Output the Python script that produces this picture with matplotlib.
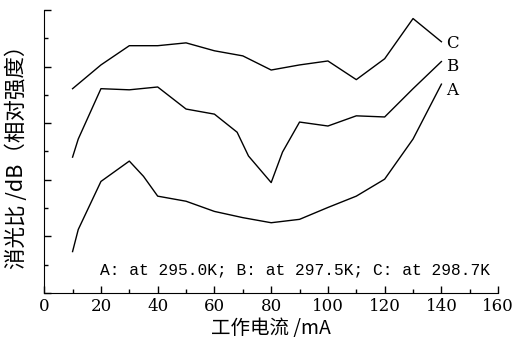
import matplotlib
matplotlib.use('Agg')
import matplotlib.pyplot as plt
from matplotlib.ticker import MultipleLocator, NullFormatter

# Data (relative units)
x_a = [10, 12, 20, 25, 30, 35, 40, 50, 60, 70, 80, 90, 100, 110, 120, 130, 140]
y_a = [0.73, 1.12, 1.97, 2.15, 2.33, 2.06, 1.71, 1.62, 1.44, 1.33, 1.24, 1.30, 1.51, 1.71, 2.01, 2.72, 3.69]

x_b = [10, 12, 20, 30, 40, 50, 60, 68, 72, 80, 84, 90, 100, 110, 120, 130, 140]
y_b = [2.40, 2.72, 3.61, 3.59, 3.64, 3.25, 3.16, 2.84, 2.42, 1.95, 2.49, 3.02, 2.95, 3.13, 3.11, 3.61, 4.09]

x_c = [10, 20, 30, 40, 50, 60, 70, 80, 90, 100, 110, 120, 130, 140]
y_c = [3.61, 4.03, 4.37, 4.37, 4.42, 4.28, 4.19, 3.94, 4.03, 4.10, 3.77, 4.14, 4.85, 4.44]

curve_names = ["A", "B", "C"]
label_y = [3.57, 4.0, 4.4]
note = "A: at 295.0K; B: at 297.5K; C: at 298.7K"
xlabel = "工作电流 /mA"
ylabel = "消光比 /dB（相对强度）"

cjk = ['Noto Sans CJK SC', 'DejaVu Sans']

fig = plt.figure(figsize=(5.2, 3.47), dpi=100)
ax = fig.add_axes([0.085, 0.156, 0.873, 0.815])

for xs, ys in [(x_a, y_a), (x_b, y_b), (x_c, y_c)]:
    ax.plot(xs, ys, color='black', lw=1.0)

# curve labels at the right end
for name, ly in zip(curve_names, label_y):
    ax.text(141.5, ly, name, fontsize=12, family='DejaVu Serif', va='center')

ax.text(88.4, 0.41, note, fontsize=11.7, family='Liberation Mono', ha='center', va='center')

ax.set_xlim(0, 160)
ax.set_ylim(0, 5)
ax.xaxis.set_major_locator(MultipleLocator(20))
ax.xaxis.set_minor_locator(MultipleLocator(10))
ax.yaxis.set_major_locator(MultipleLocator(1))
ax.yaxis.set_minor_locator(MultipleLocator(0.5))
ax.yaxis.set_major_formatter(NullFormatter())
ax.tick_params(direction='in', which='major', length=5, width=1)
ax.tick_params(direction='in', which='minor', length=3, width=1)
ax.tick_params(axis='x', labelsize=12, pad=4)
for lab in ax.get_xticklabels():
    lab.set_family('DejaVu Serif')
ax.spines['top'].set_visible(False)
ax.spines['right'].set_visible(False)

ax.set_xlabel(xlabel, fontsize=14, family=cjk, labelpad=2)
ax.set_ylabel(ylabel, fontsize=15.5, family=cjk, labelpad=8)

fig.savefig("out.png", dpi=100)
